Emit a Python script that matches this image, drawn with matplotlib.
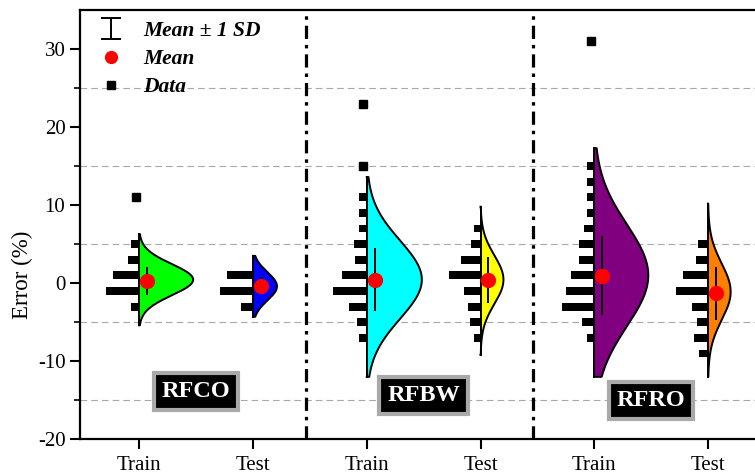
import numpy as np
import matplotlib
matplotlib.use('Agg')
import matplotlib.pyplot as plt
from matplotlib.lines import Line2D
from matplotlib.ticker import FixedLocator

plt.rcParams['font.family'] = ['Liberation Serif', 'DejaVu Serif']
plt.rcParams['lines.scale_dashes'] = False
plt.rcParams['axes.unicode_minus'] = False

models = ['RFCO', 'RFBW', 'RFRO']
tick_names = ['Train', 'Test', 'Train', 'Test', 'Train', 'Test']
colors = ['#00ff00', '#0000ff', '#00ffff', '#ffff00', '#800080', '#ff8000']

# histogram of errors (bin centers in %, relative frequency)
bins_co_train = [-3, -1, 1, 3, 5]
freq_co_train = [2.2, 9.1, 7.0, 3.0, 2.2]
bins_co_test = [-3, -1, 1]
freq_co_test = [3.2, 8.8, 6.9]
bins_bw_train = [-7, -5, -3, -1, 1, 3, 5, 7, 9, 11]
freq_bw_train = [2.0, 2.7, 4.7, 9.0, 6.8, 3.2, 3.4, 2.2, 2.0, 2.0]
bins_bw_test = [-7, -5, -3, -1, 1, 3, 5, 7]
freq_bw_test = [1.8, 2.9, 3.4, 4.6, 8.6, 5.4, 2.5, 1.8]
bins_ro_train = [-7, -5, -3, -1, 1, 3, 5, 7, 9, 11, 13, 15]
freq_ro_train = [1.9, 3.2, 8.8, 7.6, 6.4, 4.2, 4.2, 2.8, 2.1, 2.1, 1.9, 2.1]
bins_ro_test = [-9, -7, -5, -3, -1, 1, 3, 5]
freq_ro_test = [2.4, 3.8, 2.9, 4.3, 8.7, 6.8, 3.3, 2.7]

# mean and standard deviation
mean_err = [0.31, -0.30, 0.45, 0.42, 0.97, -1.28]
sd_err = [1.82, 1.10, 4.05, 2.90, 5.03, 3.40]

# distribution curve (normal fit) and its range
curve_mu = [0.45, -0.40, 0.45, 0.45, 1.0, -1.10]
curve_sd = [2.0, 1.8, 5.0, 3.1, 6.5, 3.6]
curve_peak = [14.6, 6.5, 14.9, 6.2, 14.6, 6.1]
curve_lo = [-5.4, -4.3, -12.0, -9.2, -12.0, -12.0]
curve_hi = [6.3, 3.5, 13.6, 9.8, 17.3, 10.2]

# single points outside the histogram
outlier_group = [1, 3, 3, 5]
outlier_val = [11, 15, 23, 31]

all_bins = [bins_co_train, bins_co_test, bins_bw_train, bins_bw_test, bins_ro_train, bins_ro_test]
all_freq = [freq_co_train, freq_co_test, freq_bw_train, freq_bw_test, freq_ro_train, freq_ro_test]

HIST_SCALE = 0.0325   # frequency -> x units
OFFSET = 0.07         # mean / sd marker shift

fig = plt.figure(figsize=(7.55, 4.76), dpi=100)
ax = fig.add_axes([80 / 755, 36.7 / 476, 685 / 755, 429.3 / 476])

for i in range(6):
    x0 = i + 1
    w = np.array(all_freq[i]) * HIST_SCALE
    ax.barh(all_bins[i], w, height=1.0, left=x0 - w, color='black', zorder=3)

    y = np.linspace(curve_lo[i], curve_hi[i], 300)
    cw = curve_peak[i] * HIST_SCALE * np.exp(-0.5 * ((y - curve_mu[i]) / curve_sd[i]) ** 2)
    ax.fill_betweenx(y, x0, x0 + cw, facecolor=colors[i], edgecolor='none', zorder=2)
    xs = np.concatenate([[x0], x0 + cw, [x0]])
    ys = np.concatenate([[y[0]], y, [y[-1]]])
    ax.plot(xs, ys, color='black', lw=1.4, zorder=4)
    ax.plot([x0, x0], [curve_lo[i], curve_hi[i]], color='black', lw=1.4, zorder=4)

    ax.errorbar(x0 + OFFSET, mean_err[i], yerr=sd_err[i], fmt='none', ecolor='black',
                elinewidth=1.4, capsize=0, zorder=5)
    ax.plot(x0 + OFFSET, mean_err[i], 'o', color='red', ms=11, mec='none', zorder=6)

ax.plot(np.array(outlier_group) - 0.03, outlier_val, 's', color='black', ms=6, zorder=5)

# separators between models
for xd in [2.465, 4.46]:
    ax.axvline(xd, color='black', lw=2.3, dashes=(9.5, 4.3, 2.5, 4.3), zorder=1)

# model labels
label_y = [-13.9, -14.4, -15.0]
for k, name in enumerate(models):
    ax.text(2 * k + 1.5, label_y[k], name, ha='center', va='center', color='white',
            fontsize=17.5, fontweight='bold', zorder=7,
            bbox=dict(boxstyle='square,pad=0.32', fc='black', ec='#a9a9a9', lw=3))

ax.set_xlim(0.48, 6.5)
ax.set_ylim(-20, 35)
ax.set_xticks(range(1, 7))
ax.set_xticklabels(tick_names)
ax.set_yticks([-20, -10, 0, 10, 20, 30])
ax.yaxis.set_minor_locator(FixedLocator([-15, -5, 5, 15, 25]))
ax.grid(which='minor', axis='y', color='#a8a8a8', lw=0.8, dashes=(4.8, 2.9), zorder=0)
ax.set_axisbelow(True)
ax.tick_params(axis='both', which='major', direction='out', length=7, width=1.5, labelsize=15)
ax.tick_params(axis='x', which='major', pad=5)
ax.tick_params(axis='y', which='minor', direction='out', length=4, width=1.2)
ax.set_ylabel('Error (%)', fontsize=16.5)
ax.yaxis.set_label_coords(-0.068, 0.383)
for s in ['left', 'bottom', 'top']:
    ax.spines[s].set_linewidth(1.6)
ax.spines['right'].set_visible(False)

# legend
eb = ax.errorbar([np.nan], [np.nan], yerr=[1], fmt='none', ecolor='black', elinewidth=1.4,
                 capsize=7, capthick=1.4)
h_mean = Line2D([], [], marker='o', color='red', mec='none', ls='none', ms=9.5)
h_data = Line2D([], [], marker='s', color='black', ls='none', ms=5.5)
ax.legend([eb, h_mean, h_data], ['Mean \u00b1 1 SD', 'Mean', 'Data'], loc='upper left',
          bbox_to_anchor=(0.03, 0.975), borderpad=0, borderaxespad=0, frameon=False,
          handlelength=1.0, handletextpad=1.0, labelspacing=0.38,
          prop=dict(family='Liberation Serif', weight='bold', style='italic', size=15.5))

plt.savefig('out.png', dpi=100)
